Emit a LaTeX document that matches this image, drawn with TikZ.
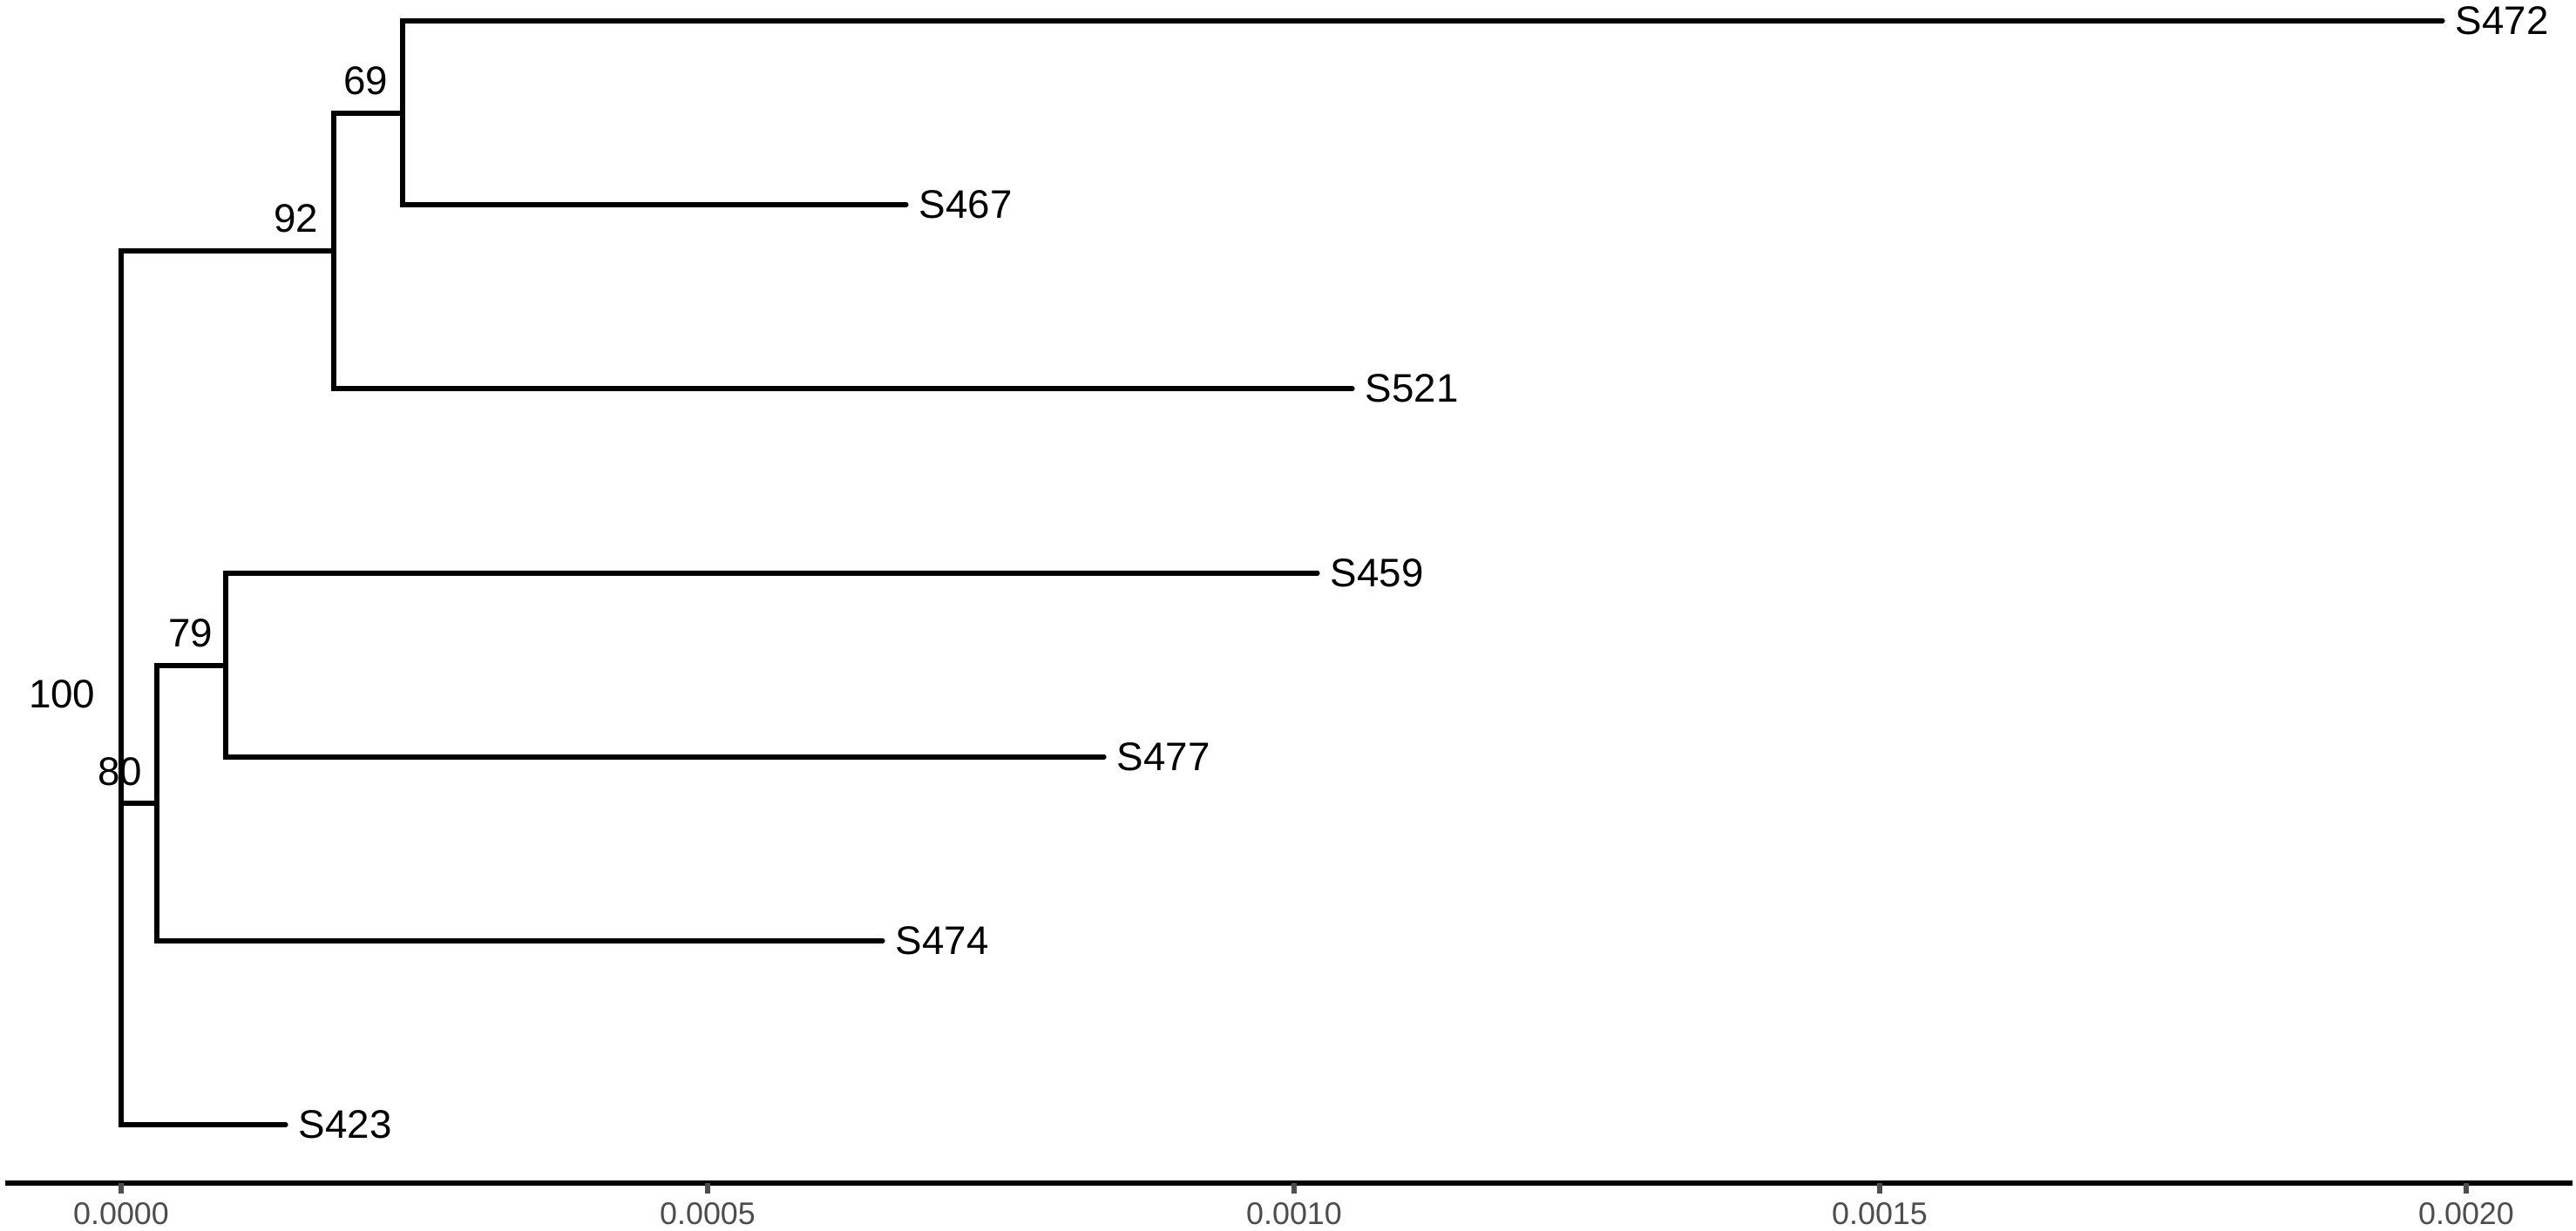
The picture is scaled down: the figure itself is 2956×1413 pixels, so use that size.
\documentclass[tikz,border=0pt]{standalone}
\usepackage{fontspec}
\setmainfont{Liberation Sans}
\usetikzlibrary{
    positioning,
    calc
}
\definecolor{axisgray}{HTML}{4D4D4D}
\tikzset{
    % --- Tree branch (elbow segment) ---
    branch/.style = {
        line width=1.5pt, line cap=round
    },
    % --- Tip label (sample name) ---
    tip/.style = {
        inner sep=0pt,
        font=\fontsize{13}{15}\selectfont
    },
    % --- Bootstrap support value at internal node ---
    support/.style = {
        inner sep=0pt,
        font=\fontsize{13}{15}\selectfont
    },
    % --- x axis line ---
    axis line/.style = {
        line width=1.8pt
    },
    % --- Axis tick mark ---
    axis tick/.style = {
        line width=1.5pt, draw=axisgray
    },
    % --- Axis tick label ---
    tick label/.style = {
        inner sep=0pt, text=axisgray,
        font=\fontsize{10.2}{12}\selectfont
    }
}

\begin{document}
\begin{tikzpicture}[x=0.01cm, y=-0.01cm]

% bounding box = full figure incl. margins
\useasboundingbox (0,0) rectangle (2956,1413);

% ---------------------------------------------------------
% Internal nodes
% ---------------------------------------------------------
\coordinate (root) at (139,834);
\coordinate (n92)  at (383,288);
\coordinate (n69)  at (462,130);
\coordinate (n80)  at (180,922);
\coordinate (n79)  at (259,764);

% ---------------------------------------------------------
% Tips: branch ends and sample labels
% ---------------------------------------------------------
\coordinate (t472) at (2803,24);
\coordinate (t467) at (1040,235);
\coordinate (t521) at (1552,446);
\coordinate (t459) at (1512,658);
\coordinate (t477) at (1267,869);
\coordinate (t474) at (1013,1080);
\coordinate (t423) at (328,1291);

\node[tip, right=0.14cm of t472] (S472) {S472};
\node[tip, right=0.14cm of t467] (S467) {S467};
\node[tip, right=0.14cm of t521] (S521) {S521};
\node[tip, right=0.14cm of t459] (S459) {S459};
\node[tip, right=0.14cm of t477] (S477) {S477};
\node[tip, right=0.14cm of t474] (S474) {S474};
\node[tip, right=0.14cm of t423] (S423) {S423};

% ---------------------------------------------------------
% Branches
% ---------------------------------------------------------
\draw[branch] (root) |- (n92);
\draw[branch] (root) |- (n80);
\draw[branch] (root) |- (t423);
\draw[branch] (n92) |- (n69);
\draw[branch] (n92) |- (t521);
\draw[branch] (n69) |- (t472);
\draw[branch] (n69) |- (t467);
\draw[branch] (n80) |- (n79);
\draw[branch] (n80) |- (t474);
\draw[branch] (n79) |- (t459);
\draw[branch] (n79) |- (t477);

% ---------------------------------------------------------
% Bootstrap values
% ---------------------------------------------------------
\node[support, above left=0.2cm and 0.29cm of root] (b100) {100};
\node[support, above left=0.2cm and 0.17cm of n92] (b92) {92};
\node[support, above left=0.2cm and 0.16cm of n69] (b69) {69};
\node[support, above left=0.19cm and 0.16cm of n80] (b80) {80};
\node[support, above left=0.2cm and 0.14cm of n79] (b79) {79};

% ---------------------------------------------------------
% Scale axis
% ---------------------------------------------------------
\coordinate (axL) at (6,1358);
\coordinate (axR) at (2952,1358);
\draw[axis line] (axL) -- (axR);
\foreach \val/\px in {0.0000/139, 0.0005/812, 0.0010/1485, 0.0015/2157, 0.0020/2830} {
    \coordinate (tk\px) at (\px,1358);
    \coordinate (te\px) at (\px,1370);
    \draw[axis tick] (tk\px) -- (te\px);
    \node[tick label, below=0.1cm of te\px] (lb\px) {\val};
}

\end{tikzpicture}
\end{document}
